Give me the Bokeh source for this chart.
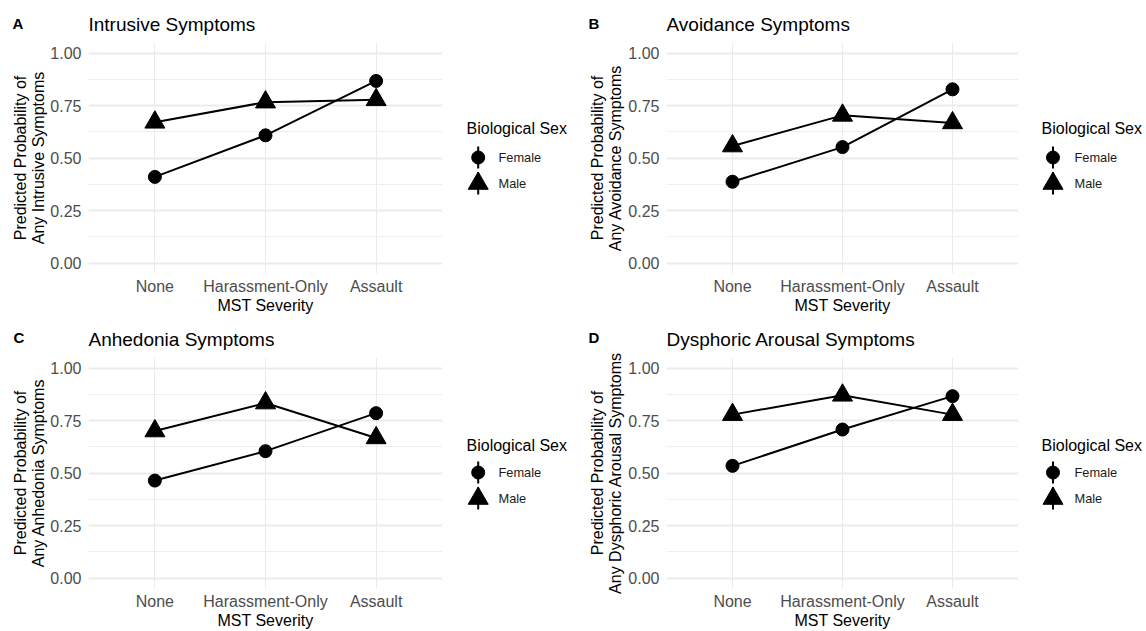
import math
from bokeh.plotting import figure
from bokeh.models import Range1d, FixedTicker, PrintfTickFormatter, Label
from bokeh.layouts import row, column
from bokeh.embed import file_html
from bokeh.resources import INLINE

# ---------------- data ----------------
severity = ["None", "Harassment-Only", "Assault"]
sexes = ["Female", "Male"]
legend_title = "Biological Sex"
x_title = "MST Severity"
y_ticks = [0.0, 0.25, 0.5, 0.75, 1.0]

panel_letters = ["A", "B", "C", "D"]
panel_titles = ["Intrusive Symptoms", "Avoidance Symptoms",
                "Anhedonia Symptoms", "Dysphoric Arousal Symptoms"]
y_titles = [("Predicted Probability of", "Any Intrusive Symptoms"),
            ("Predicted Probability of", "Any Avoidance Symptoms"),
            ("Predicted Probability of", "Any Anhedonia Symptoms"),
            ("Predicted Probability of", "Any Dysphoric Arousal Symptoms")]

intrusive_female = [0.410, 0.608, 0.867]
intrusive_male = [0.670, 0.766, 0.777]
avoidance_female = [0.387, 0.552, 0.827]
avoidance_male = [0.557, 0.703, 0.667]
anhedonia_female = [0.464, 0.604, 0.785]
anhedonia_male = [0.700, 0.833, 0.667]
dysphoric_female = [0.534, 0.707, 0.866]
dysphoric_male = [0.778, 0.870, 0.778]

female_series = [intrusive_female, avoidance_female, anhedonia_female, dysphoric_female]
male_series = [intrusive_male, avoidance_male, anhedonia_male, dysphoric_male]

# ---------------- style ----------------
FONT = "Liberation Sans"
X0, X1 = 0.4, 3.6
Y0, Y1 = -0.05, 1.05
x_pos = [i + 1 for i in range(len(severity))]
minor_ticks = [(a + b) / 2 for a, b in zip(y_ticks[:-1], y_ticks[1:])]


def make_panel(k, page_x0, page_y0, W, H, bl, bt, fw, fh,
               letter_xy, title_xy, ylab_x):
    bb = H - bt - fh
    p = figure(width=W, height=H, x_range=Range1d(X0, X1), y_range=Range1d(Y0, Y1),
               output_backend="svg", toolbar_location=None,
               min_border_left=bl, min_border_right=0,
               min_border_top=bt, min_border_bottom=bb)
    p.outline_line_color = None
    p.background_fill_color = "white"
    p.border_fill_color = "white"

    p.xaxis.ticker = FixedTicker(ticks=x_pos)
    p.xaxis.major_label_overrides = {x: s for x, s in zip(x_pos, severity)}
    p.yaxis.ticker = FixedTicker(ticks=y_ticks, minor_ticks=minor_ticks)
    p.yaxis.formatter = PrintfTickFormatter(format="%.2f")
    for ax in (p.xaxis, p.yaxis):
        ax.axis_line_color = None
        ax.major_tick_line_color = None
        ax.minor_tick_line_color = None
        ax.major_tick_out = 0
        ax.major_tick_in = 0
        ax.minor_tick_out = 0
        ax.minor_tick_in = 0
        ax.major_label_text_font = FONT
        ax.major_label_text_font_size = "16px"
        ax.major_label_text_color = "#4D4D4D"
    p.xaxis.major_label_standoff = 4
    p.yaxis.major_label_standoff = 7
    p.xaxis.axis_label = x_title
    p.xaxis.axis_label_standoff = -1
    p.xaxis.axis_label_text_font = FONT
    p.xaxis.axis_label_text_font_size = "16px"
    p.xaxis.axis_label_text_font_style = "normal"
    p.xaxis.axis_label_text_color = "black"

    p.xgrid.grid_line_color = "#EBEBEB"
    p.xgrid.grid_line_width = 1
    p.ygrid.grid_line_color = "#EBEBEB"
    p.ygrid.grid_line_width = 2
    p.ygrid.minor_grid_line_color = "#EEEEEE"
    p.ygrid.minor_grid_line_width = 1

    p.line(x_pos, female_series[k], line_color="black", line_width=2)
    p.line(x_pos, male_series[k], line_color="black", line_width=2)
    p.scatter(x_pos, female_series[k], marker="circle", size=13,
              fill_color="black", line_color="black")
    p.scatter(x_pos, male_series[k], marker="triangle", size=20,
              fill_color="black", line_color="black")

    def to_data(px, py):
        fx = px - page_x0
        fy = py - page_y0
        return (X0 + (fx - bl) / fw * (X1 - X0),
                Y1 - (fy - bt) / fh * (Y1 - Y0))

    lx, ly = to_data(*letter_xy)
    p.add_layout(Label(x=lx, y=ly, text=panel_letters[k], text_font=FONT,
                       text_font_size="15px", text_font_style="bold",
                       text_color="black", text_align="left", text_baseline="middle"),
                 "above")
    tx, ty = to_data(*title_xy)
    p.add_layout(Label(x=tx, y=ty, text=panel_titles[k], text_font=FONT,
                       text_font_size="19px", text_color="black",
                       text_align="left", text_baseline="middle"),
                 "above")
    yc_page = page_y0 + bt + fh / 2
    for line_text, px in zip(y_titles[k], ylab_x):
        dx, dy = to_data(px, yc_page)
        p.add_layout(Label(x=dx, y=dy, text=line_text, text_font=FONT,
                           text_font_size="16px", text_color="black", angle=math.pi / 2,
                           text_align="center", text_baseline="middle"),
                     "left")
    return p


def make_legend(page_x0, page_y0, W, H, bt, fh, title_xy, key_x, text_x, rows_y):
    bb = H - bt - fh
    lg = figure(width=W, height=H,
                x_range=Range1d(page_x0, page_x0 + W),
                y_range=Range1d(page_y0 + bt + fh, page_y0 + bt),
                output_backend="svg", toolbar_location=None,
                x_axis_location=None, y_axis_location=None,
                min_border_left=0, min_border_right=0,
                min_border_top=bt, min_border_bottom=bb)
    lg.grid.visible = False
    lg.outline_line_color = None
    lg.background_fill_color = "white"
    lg.border_fill_color = "white"
    lg.add_layout(Label(x=title_xy[0], y=title_xy[1], text=legend_title,
                        text_font=FONT, text_font_size="16px", text_color="black",
                        text_align="left", text_baseline="middle"))
    markers = ["circle", "triangle"]
    sizes = [13, 20]
    for sex, ry, mk, sz in zip(sexes, rows_y, markers, sizes):
        lg.segment(x0=[key_x], y0=[ry - 11], x1=[key_x], y1=[ry + 11],
                   line_color="black", line_width=2)
        lg.scatter([key_x], [ry], marker=mk, size=sz, fill_color="black", line_color="black")
        lg.add_layout(Label(x=text_x, y=ry, text=sex, text_font=FONT,
                            text_font_size="12.8px", text_color="#1A1A1A",
                            text_align="left", text_baseline="middle"))
    return lg


TOP_H, BOT_H = 316, 315
pA = make_panel(0, 0, 0, 442, TOP_H, 88, 42, 354, 231,
                (12, 23), (88, 24), (20, 38))
lA = make_legend(442, 0, 131, TOP_H, 42, 231, (466, 128), 477.7, 498, (157, 183))
pB = make_panel(1, 573, 0, 445, TOP_H, 93, 42, 352, 231,
                (588, 23), (666, 24), (596.7, 615))
lB = make_legend(1018, 0, 128, TOP_H, 42, 231, (1041, 128), 1052.5, 1074, (157, 183))

pC = make_panel(2, 0, 316, 442, BOT_H, 88, 41, 354, 231,
                (13, 337), (88, 339), (20, 38))
lC = make_legend(442, 316, 131, BOT_H, 41, 231, (466, 445), 477.7, 498, (472, 498))
pD = make_panel(3, 573, 316, 445, BOT_H, 93, 41, 352, 231,
                (588, 337), (666, 339), (596.7, 615))
lD = make_legend(1018, 316, 128, BOT_H, 41, 231, (1041, 445), 1052.5, 1074, (472, 498))

layout = column(row(pA, lA, pB, lB), row(pC, lC, pD, lD))

with open("out.html", "w") as f:
    f.write(file_html(layout, INLINE))
